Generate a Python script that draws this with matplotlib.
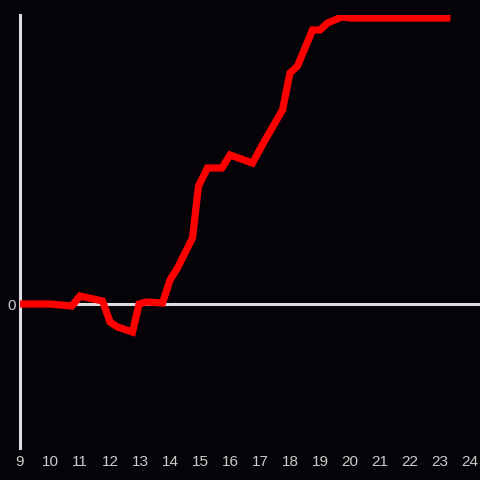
import matplotlib
matplotlib.use("Agg")
import matplotlib.pyplot as plt

# hour of day and value (0 at the white baseline)
hours = [9.0, 10.0, 10.73, 11.0, 11.75, 12.0, 12.25, 12.75, 12.97, 13.2, 13.75,
         14.0, 14.25, 14.75, 14.95, 15.25, 15.73, 16.0, 16.75, 17.17, 17.75,
         18.0, 18.25, 18.75, 19.0, 19.25, 19.73, 20.0, 23.35]
values = [0, 0, -2, 8, 3, -18, -23, -28, 0, 2, 1,
          24, 36, 66, 118, 136, 136, 149, 141, 164, 194,
          231, 238, 274, 274, 281, 287, 286, 286]
xticks = list(range(9, 25))

bg = "#050307"
fig = plt.figure(figsize=(4.8, 4.8), dpi=100, facecolor=bg)
ax = fig.add_axes([20 / 480, 32 / 480, 460 / 480, 433 / 480], facecolor=bg)

ax.plot(hours, values, color="#ff0000", linewidth=5.2, solid_capstyle="butt",
        solid_joinstyle="miter", zorder=3)
ax.axhline(0, color="#dddddd", linewidth=2.2, zorder=2)

ax.set_xlim(9, 24 + 1 / 3)
ax.set_ylim(-144, 289)

for s in ["top", "right", "bottom"]:
    ax.spines[s].set_visible(False)
ax.spines["left"].set_color("#dddddd")
ax.spines["left"].set_linewidth(2.2)

ax.set_xticks(xticks)
ax.set_xticklabels([str(t) for t in xticks])
ax.set_yticks([0])
ax.set_yticklabels(["0"])
ax.tick_params(length=0, colors="#cccccc", labelsize=11)
ax.tick_params(axis="x", pad=5)
ax.tick_params(axis="y", pad=3)
for lbl in ax.get_xticklabels() + ax.get_yticklabels():
    lbl.set_family(["Liberation Sans", "DejaVu Sans"])

fig.savefig("out.png", dpi=100, facecolor=bg)
